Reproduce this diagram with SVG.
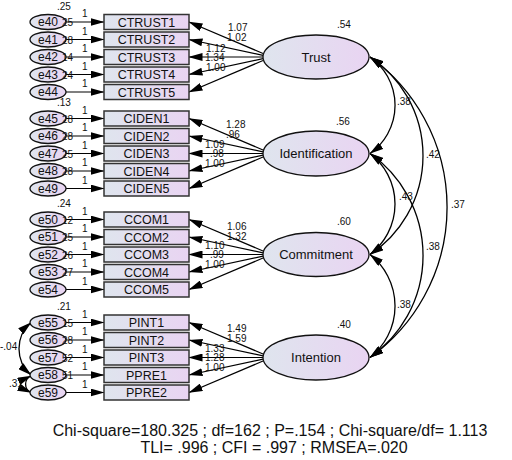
<svg xmlns="http://www.w3.org/2000/svg" width="512" height="460" viewBox="0 0 512 460">
<defs>
<linearGradient id="g" x1="0" y1="0" x2="1" y2="0">
<stop offset="0" stop-color="#dfe5ee"/>
<stop offset="1" stop-color="#e9d4f2"/>
</linearGradient>
<marker id="ah" markerUnits="userSpaceOnUse" markerWidth="14" markerHeight="8" refX="13.5" refY="4" orient="auto-start-reverse" viewBox="0 0 14 8">
<path d="M0,0 L14,4 L0,8 z" fill="#000"/>
</marker>
<style>
text{font-family:"Liberation Sans",Arial,sans-serif;fill:#111}
.box{fill:url(#g);stroke:#333;stroke-width:1.5}
.ell{fill:url(#g);stroke:#111;stroke-width:1.3}
.bt{font-size:12.5px;text-anchor:middle}
.et{font-size:12px;text-anchor:middle}
.ft{font-size:13px;text-anchor:middle}
.s{font-size:10px}
.ln{stroke:#000;stroke-width:1.2;fill:none;marker-end:url(#ah)}
.arc{stroke:#000;stroke-width:1.3;fill:none;marker-end:url(#ah);marker-start:url(#ah)}
.big{font-size:16px;text-anchor:middle}
</style>
</defs>
<rect width="512" height="460" fill="#fff"/>

<g id="connectors">
<path class="ln" d="M66,22 H104"/><path class="ln" d="M66,39.5 H104"/><path class="ln" d="M66,57 H104"/><path class="ln" d="M66,74.5 H104"/><path class="ln" d="M66,92 H104"/>
<path class="ln" d="M66,118.5 H104"/><path class="ln" d="M66,136 H104"/><path class="ln" d="M66,153.5 H104"/><path class="ln" d="M66,171 H104"/><path class="ln" d="M66,188.5 H104"/>
<path class="ln" d="M66,219.5 H104"/><path class="ln" d="M66,237 H104"/><path class="ln" d="M66,254.5 H104"/><path class="ln" d="M66,272 H104"/><path class="ln" d="M66,289.5 H104"/>
<path class="ln" d="M66,322.5 H104"/><path class="ln" d="M66,340 H104"/><path class="ln" d="M66,357.5 H104"/><path class="ln" d="M66,375 H104"/><path class="ln" d="M66,392.5 H104"/>
<path class="ln" d="M263,53.5 L189,22"/><path class="ln" d="M263,55.3 L189,39.5"/><path class="ln" d="M263,57 L189,57"/><path class="ln" d="M263,58.7 L189,74.5"/><path class="ln" d="M263,60.5 L189,92"/>
<path class="ln" d="M263,150 L189,118.5"/><path class="ln" d="M263,151.8 L189,136"/><path class="ln" d="M263,153.5 L189,153.5"/><path class="ln" d="M263,155.2 L189,171"/><path class="ln" d="M263,157 L189,188.5"/>
<path class="ln" d="M263,251 L189,219.5"/><path class="ln" d="M263,252.8 L189,237"/><path class="ln" d="M263,254.5 L189,254.5"/><path class="ln" d="M263,256.2 L189,272"/><path class="ln" d="M263,258 L189,289.5"/>
<path class="ln" d="M263,354 L189,322.5"/><path class="ln" d="M263,355.8 L189,340"/><path class="ln" d="M263,357.5 L189,357.5"/><path class="ln" d="M263,359.2 L189,375"/><path class="ln" d="M263,361 L189,392.5"/>
<path class="arc" d="M370,57 A59,59 0 0 1 370,153.5"/>
<path class="arc" d="M370,153.5 A63.5,63.5 0 0 1 370,254.5"/>
<path class="arc" d="M370,254.5 A65.5,65.5 0 0 1 370,357.5"/>
<path class="arc" d="M370,57 A118.5,118.5 0 0 1 370,254.5"/>
<path class="arc" d="M370,153.5 A124.6,124.6 0 0 1 370,357.5"/>
<path class="arc" d="M370,57 A185,185 0 0 1 370,357.5"/>
<path class="arc" d="M31,322.5 A34.7,34.7 0 0 0 31,375"/>
<path class="arc" d="M31,376 A9,9 0 0 0 31,392.5"/>
</g>

<g id="labels-connectors">
<text class="s" x="82" y="17">1</text><text class="s" x="82" y="34.5">1</text><text class="s" x="82" y="52">1</text><text class="s" x="82" y="69.5">1</text><text class="s" x="82" y="87">1</text>
<text class="s" x="82" y="113.5">1</text><text class="s" x="82" y="131">1</text><text class="s" x="82" y="148.5">1</text><text class="s" x="82" y="166">1</text><text class="s" x="82" y="183.5">1</text>
<text class="s" x="82" y="214.5">1</text><text class="s" x="82" y="232">1</text><text class="s" x="82" y="249.5">1</text><text class="s" x="82" y="267">1</text><text class="s" x="82" y="284.5">1</text>
<text class="s" x="82" y="317.5">1</text><text class="s" x="82" y="335">1</text><text class="s" x="82" y="352.5">1</text><text class="s" x="82" y="370">1</text><text class="s" x="82" y="387.5">1</text>

<text class="s" x="228" y="31">1.07</text><text class="s" x="227" y="41">1.02</text><text class="s" x="206" y="52">1.12</text><text class="s" x="205" y="61">1.34</text><text class="s" x="206" y="71">1.00</text>
<text class="s" x="226" y="128">1.28</text><text class="s" x="226" y="138">.96</text><text class="s" x="205" y="148">1.09</text><text class="s" x="210" y="157">.98</text><text class="s" x="205" y="167">1.00</text>
<text class="s" x="227" y="230">1.06</text><text class="s" x="227" y="240">1.32</text><text class="s" x="205" y="249">1.10</text><text class="s" x="210" y="258">.99</text><text class="s" x="205" y="268">1.00</text>
<text class="s" x="227" y="332">1.49</text><text class="s" x="227" y="342">1.59</text><text class="s" x="205" y="352">1.33</text><text class="s" x="205" y="361">1.28</text><text class="s" x="205" y="371">1.00</text>

<text class="s" x="397" y="105">.38</text>
<text class="s" x="399" y="200">.43</text>
<text class="s" x="397" y="308">.38</text>
<text class="s" x="426" y="158">.42</text>
<text class="s" x="426" y="250">.38</text>
<text class="s" x="451" y="208">.37</text>
<text class="s" x="0" y="350">-.04</text>
<text class="s" x="9" y="387">.31</text>
</g>

<g id="e40"><ellipse class="ell" cx="48" cy="22" rx="18" ry="7.5"/><text class="et" x="48" y="26">e40</text><text class="s" x="62" y="26">25</text></g>
<g id="e41"><ellipse class="ell" cx="48" cy="39.5" rx="18" ry="7.5"/><text class="et" x="48" y="43.5">e41</text><text class="s" x="62" y="43.5">28</text></g>
<g id="e42"><ellipse class="ell" cx="48" cy="57" rx="18" ry="7.5"/><text class="et" x="48" y="61">e42</text><text class="s" x="62" y="61">14</text></g>
<g id="e43"><ellipse class="ell" cx="48" cy="74.5" rx="18" ry="7.5"/><text class="et" x="48" y="78.5">e43</text><text class="s" x="62" y="78.5">24</text></g>
<g id="e44"><ellipse class="ell" cx="48" cy="92" rx="18" ry="7.5"/><text class="et" x="48" y="96">e44</text></g>
<g id="e45"><ellipse class="ell" cx="48" cy="118.5" rx="18" ry="7.5"/><text class="et" x="48" y="122.5">e45</text><text class="s" x="62" y="122.5">28</text></g>
<g id="e46"><ellipse class="ell" cx="48" cy="136" rx="18" ry="7.5"/><text class="et" x="48" y="140">e46</text><text class="s" x="62" y="140">28</text></g>
<g id="e47"><ellipse class="ell" cx="48" cy="153.5" rx="18" ry="7.5"/><text class="et" x="48" y="157.5">e47</text><text class="s" x="62" y="157.5">25</text></g>
<g id="e48"><ellipse class="ell" cx="48" cy="171" rx="18" ry="7.5"/><text class="et" x="48" y="175">e48</text><text class="s" x="62" y="175">28</text></g>
<g id="e49"><ellipse class="ell" cx="48" cy="188.5" rx="18" ry="7.5"/><text class="et" x="48" y="192.5">e49</text></g>
<g id="e50"><ellipse class="ell" cx="48" cy="219.5" rx="18" ry="7.5"/><text class="et" x="48" y="223.5">e50</text><text class="s" x="62" y="223.5">12</text></g>
<g id="e51"><ellipse class="ell" cx="48" cy="237" rx="18" ry="7.5"/><text class="et" x="48" y="241">e51</text><text class="s" x="62" y="241">25</text></g>
<g id="e52"><ellipse class="ell" cx="48" cy="254.5" rx="18" ry="7.5"/><text class="et" x="48" y="258.5">e52</text><text class="s" x="62" y="258.5">26</text></g>
<g id="e53"><ellipse class="ell" cx="48" cy="272" rx="18" ry="7.5"/><text class="et" x="48" y="276">e53</text><text class="s" x="62" y="276">27</text></g>
<g id="e54"><ellipse class="ell" cx="48" cy="289.5" rx="18" ry="7.5"/><text class="et" x="48" y="293.5">e54</text></g>
<g id="e55"><ellipse class="ell" cx="48" cy="322.5" rx="18" ry="7.5"/><text class="et" x="48" y="326.5">e55</text><text class="s" x="62" y="326.5">15</text></g>
<g id="e56"><ellipse class="ell" cx="48" cy="340" rx="18" ry="7.5"/><text class="et" x="48" y="344">e56</text><text class="s" x="62" y="344">28</text></g>
<g id="e57"><ellipse class="ell" cx="48" cy="357.5" rx="18" ry="7.5"/><text class="et" x="48" y="361.5">e57</text><text class="s" x="62" y="361.5">52</text></g>
<g id="e58"><ellipse class="ell" cx="48" cy="375" rx="18" ry="7.5"/><text class="et" x="48" y="379">e58</text><text class="s" x="62" y="379">51</text></g>
<g id="e59"><ellipse class="ell" cx="48" cy="392.5" rx="18" ry="7.5"/><text class="et" x="48" y="396.5">e59</text></g>

<g id="var-labels">
<text class="s" x="57" y="10">.25</text>
<text class="s" x="57" y="106">.13</text>
<text class="s" x="57" y="207">.24</text>
<text class="s" x="57" y="310">.21</text>
</g>

<g id="CTRUST1"><rect class="box" x="104" y="14.5" width="85" height="15"/><text class="bt" x="146.5" y="26.5">CTRUST1</text></g>
<g id="CTRUST2"><rect class="box" x="104" y="32" width="85" height="15"/><text class="bt" x="146.5" y="44">CTRUST2</text></g>
<g id="CTRUST3"><rect class="box" x="104" y="49.5" width="85" height="15"/><text class="bt" x="146.5" y="61.5">CTRUST3</text></g>
<g id="CTRUST4"><rect class="box" x="104" y="67" width="85" height="15"/><text class="bt" x="146.5" y="79">CTRUST4</text></g>
<g id="CTRUST5"><rect class="box" x="104" y="84.5" width="85" height="15"/><text class="bt" x="146.5" y="96.5">CTRUST5</text></g>
<g id="CIDEN1"><rect class="box" x="104" y="111" width="85" height="15"/><text class="bt" x="146.5" y="123">CIDEN1</text></g>
<g id="CIDEN2"><rect class="box" x="104" y="128.5" width="85" height="15"/><text class="bt" x="146.5" y="140.5">CIDEN2</text></g>
<g id="CIDEN3"><rect class="box" x="104" y="146" width="85" height="15"/><text class="bt" x="146.5" y="158">CIDEN3</text></g>
<g id="CIDEN4"><rect class="box" x="104" y="163.5" width="85" height="15"/><text class="bt" x="146.5" y="175.5">CIDEN4</text></g>
<g id="CIDEN5"><rect class="box" x="104" y="181" width="85" height="15"/><text class="bt" x="146.5" y="193">CIDEN5</text></g>
<g id="CCOM1"><rect class="box" x="104" y="212" width="85" height="15"/><text class="bt" x="146.5" y="224">CCOM1</text></g>
<g id="CCOM2"><rect class="box" x="104" y="229.5" width="85" height="15"/><text class="bt" x="146.5" y="241.5">CCOM2</text></g>
<g id="CCOM3"><rect class="box" x="104" y="247" width="85" height="15"/><text class="bt" x="146.5" y="259">CCOM3</text></g>
<g id="CCOM4"><rect class="box" x="104" y="264.5" width="85" height="15"/><text class="bt" x="146.5" y="276.5">CCOM4</text></g>
<g id="CCOM5"><rect class="box" x="104" y="282" width="85" height="15"/><text class="bt" x="146.5" y="294">CCOM5</text></g>
<g id="PINT1"><rect class="box" x="104" y="315" width="85" height="15"/><text class="bt" x="146.5" y="327">PINT1</text></g>
<g id="PINT2"><rect class="box" x="104" y="332.5" width="85" height="15"/><text class="bt" x="146.5" y="344.5">PINT2</text></g>
<g id="PINT3"><rect class="box" x="104" y="350" width="85" height="15"/><text class="bt" x="146.5" y="362">PINT3</text></g>
<g id="PPRE1"><rect class="box" x="104" y="367.5" width="85" height="15"/><text class="bt" x="146.5" y="379.5">PPRE1</text></g>
<g id="PPRE2"><rect class="box" x="104" y="385" width="85" height="15"/><text class="bt" x="146.5" y="397">PPRE2</text></g>

<g id="Trust"><ellipse class="ell" cx="316" cy="57" rx="53" ry="22"/><text class="ft" x="316" y="61.5">Trust</text><text class="s" x="337" y="28">.54</text></g>
<g id="Identification"><ellipse class="ell" cx="316" cy="153.5" rx="53" ry="22.5"/><text class="ft" x="316" y="158">Identification</text><text class="s" x="336" y="125">.56</text></g>
<g id="Commitment"><ellipse class="ell" cx="316" cy="254.5" rx="53" ry="22"/><text class="ft" x="316" y="259">Commitment</text><text class="s" x="337" y="225">.60</text></g>
<g id="Intention"><ellipse class="ell" cx="316" cy="357.5" rx="53" ry="22.5"/><text class="ft" x="316" y="362">Intention</text><text class="s" x="337" y="328">.40</text></g>

<g id="fit">
<text class="big" x="270" y="436">Chi-square=180.325 ; df=162 ; P=.154 ; Chi-square/df= 1.113</text>
<text class="big" x="274" y="453">TLI= .996 ; CFI = .997 ; RMSEA=.020</text>
</g>
</svg>
